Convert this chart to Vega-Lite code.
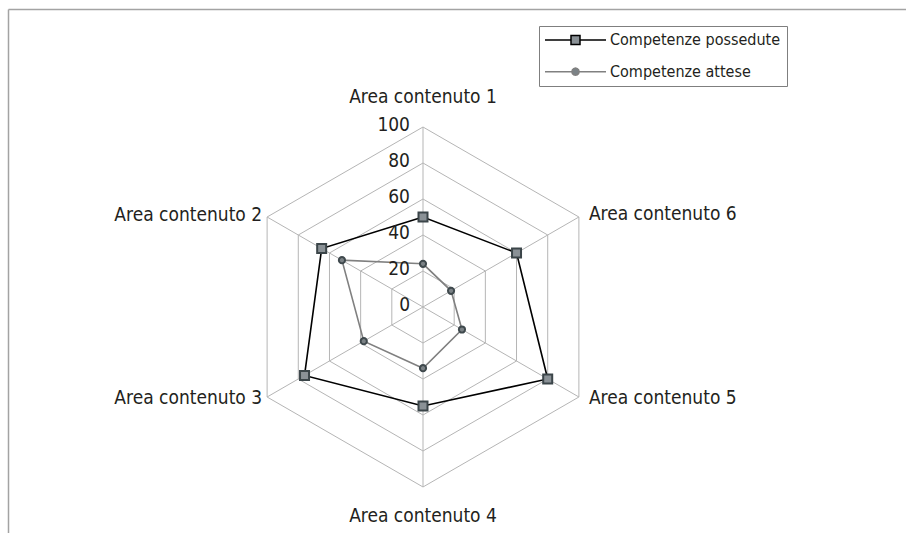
{
  "$schema": "https://vega.github.io/schema/vega-lite/v6.json",
  "width": 898,
  "height": 524,
  "autosize": "none",
  "padding": {"left": 8, "top": 9, "right": 0, "bottom": 0},
  "background": "white",
  "config": {
    "view": {"stroke": null},
    "font": "DejaVu Sans Condensed",
    "text": {"font": "DejaVu Sans Condensed", "fontSize": 19, "fill": "#231f20"}
  },
  "datasets": {
    "series": [
      {"series": "Competenze possedute", "area": 1, "value": 50},
      {"series": "Competenze possedute", "area": 2, "value": 65},
      {"series": "Competenze possedute", "area": 3, "value": 76},
      {"series": "Competenze possedute", "area": 4, "value": 55},
      {"series": "Competenze possedute", "area": 5, "value": 80},
      {"series": "Competenze possedute", "area": 6, "value": 60},
      {"series": "Competenze attese", "area": 1, "value": 24},
      {"series": "Competenze attese", "area": 2, "value": 52},
      {"series": "Competenze attese", "area": 3, "value": 38},
      {"series": "Competenze attese", "area": 4, "value": 34},
      {"series": "Competenze attese", "area": 5, "value": 25},
      {"series": "Competenze attese", "area": 6, "value": 18}
    ],
    "grid": [
      {"level": 20, "area": [1, 2, 3, 4, 5, 6]},
      {"level": 40, "area": [1, 2, 3, 4, 5, 6]},
      {"level": 60, "area": [1, 2, 3, 4, 5, 6]},
      {"level": 80, "area": [1, 2, 3, 4, 5, 6]},
      {"level": 100, "area": [1, 2, 3, 4, 5, 6]}
    ],
    "areas": [
      {"area": 1, "label": "Area contenuto 1"},
      {"area": 2, "label": "Area contenuto 2"},
      {"area": 3, "label": "Area contenuto 3"},
      {"area": 4, "label": "Area contenuto 4"},
      {"area": 5, "label": "Area contenuto 5"},
      {"area": 6, "label": "Area contenuto 6"}
    ],
    "ticks": [
      {"level": 0}, {"level": 20}, {"level": 40}, {"level": 60}, {"level": 80}, {"level": 100}
    ]
  },
  "encoding": {
    "x": {
      "field": "px", "type": "quantitative",
      "scale": {"domain": [-230.556, 268.333], "nice": false, "zero": false},
      "axis": {"orient": "top", "domain": true, "domainColor": "#a3a3a3", "domainWidth": 1.5, "ticks": false, "labels": false, "grid": false, "title": null}
    },
    "y": {
      "field": "py", "type": "quantitative",
      "scale": {"domain": [-125.556, 165.556], "nice": false, "zero": false},
      "axis": {"orient": "left", "domain": true, "domainColor": "#a3a3a3", "domainWidth": 1.5, "ticks": false, "labels": false, "grid": false, "title": null}
    }
  },
  "layer": [
    {
      "data": {"name": "grid"},
      "transform": [
        {"flatten": ["area"]},
        {"calculate": "datum.level * sin(-(datum.area - 1) * PI / 3)", "as": "px"},
        {"calculate": "datum.level * cos(-(datum.area - 1) * PI / 3)", "as": "py"}
      ],
      "mark": {"type": "line", "interpolate": "linear-closed", "stroke": "#b5b5b5", "strokeWidth": 1},
      "encoding": {
        "detail": {"field": "level", "type": "nominal"},
        "order": {"field": "area", "type": "quantitative"}
      }
    },
    {
      "data": {"name": "areas"},
      "transform": [
        {"calculate": "100 * sin(-(datum.area - 1) * PI / 3)", "as": "px"},
        {"calculate": "100 * cos(-(datum.area - 1) * PI / 3)", "as": "py"}
      ],
      "mark": {"type": "rule", "stroke": "#b5b5b5", "strokeWidth": 1},
      "encoding": {"x2": {"datum": 0}, "y2": {"datum": 0}}
    },
    {
      "data": {"name": "series"},
      "transform": [
        {"calculate": "datum.value * sin(-(datum.area - 1) * PI / 3)", "as": "px"},
        {"calculate": "datum.value * cos(-(datum.area - 1) * PI / 3)", "as": "py"}
      ],
      "mark": {"type": "line", "interpolate": "linear-closed", "strokeWidth": 1.6},
      "encoding": {
        "stroke": {
          "field": "series", "type": "nominal",
          "scale": {"domain": ["Competenze possedute", "Competenze attese"], "range": ["#000000", "#808080"]},
          "legend": {
            "orient": "none", "legendX": 531, "legendY": 17, "title": null,
            "padding": 6, "strokeColor": "#7f7f7f", "fillColor": "white",
            "symbolSize": 100, "symbolOffset": 22.5, "labelOffset": 26.5, "rowPadding": 15.7,
            "symbolStrokeWidth": 1.5,
            "labelFont": "DejaVu Sans Condensed", "labelFontSize": 16, "labelColor": "#231f20", "labelLimit": 400,
            "encode": {
              "symbols": {
                "update": {
                  "shape": {"signal": "datum.value === 'Competenze possedute' ? 'M-6.1,0H-0.9M0.9,0H6.1M-0.9,-0.9H0.9V0.9H-0.9Z' : 'M-6.1,0H-0.72M0.72,0H6.1M0.72,0L0.624,0.36L0.36,0.624L0,0.72L-0.36,0.624L-0.624,0.36L-0.72,0L-0.624,-0.36L-0.36,-0.624L0,-0.72L0.36,-0.624L0.624,-0.36Z'"},
                  "size": {"value": 100},
                  "fill": {"signal": "datum.value === 'Competenze possedute' ? '#8a9196' : '#7b8286'"},
                  "stroke": {"signal": "datum.value === 'Competenze possedute' ? '#1a1a1a' : '#6e6e6e'"},
                  "strokeWidth": {"value": 1.5},
                  "opacity": {"value": 1}
                }
              }
            }
          }
        },
        "order": {"field": "area", "type": "quantitative"}
      }
    },
    {
      "data": {"name": "series"},
      "transform": [
        {"filter": "datum.series === 'Competenze attese'"},
        {"calculate": "datum.value * sin(-(datum.area - 1) * PI / 3)", "as": "px"},
        {"calculate": "datum.value * cos(-(datum.area - 1) * PI / 3)", "as": "py"}
      ],
      "mark": {"type": "point", "shape": "circle", "size": 38, "filled": true, "fill": "#7b8286", "stroke": "#3f494d", "strokeWidth": 2, "opacity": 1}
    },
    {
      "data": {"name": "series"},
      "transform": [
        {"filter": "datum.series === 'Competenze possedute'"},
        {"calculate": "datum.value * sin(-(datum.area - 1) * PI / 3)", "as": "px"},
        {"calculate": "datum.value * cos(-(datum.area - 1) * PI / 3)", "as": "py"}
      ],
      "mark": {"type": "point", "shape": "square", "size": 81, "filled": true, "fill": "#8a9196", "stroke": "#3b4549", "strokeWidth": 2, "opacity": 1}
    },
    {
      "data": {"name": "ticks"},
      "transform": [
        {"calculate": "0", "as": "px"},
        {"calculate": "datum.level", "as": "py"}
      ],
      "mark": {"type": "text", "align": "right", "baseline": "middle", "dx": -13, "dy": -2},
      "encoding": {"text": {"field": "level", "type": "quantitative"}}
    },
    {
      "data": {"name": "areas"},
      "transform": [
        {"filter": "datum.area === 1"},
        {"calculate": "100 * sin(-(datum.area - 1) * PI / 3)", "as": "px"},
        {"calculate": "100 * cos(-(datum.area - 1) * PI / 3)", "as": "py"}
      ],
      "mark": {"type": "text", "align": "center", "baseline": "middle", "dy": -30},
      "encoding": {"text": {"field": "label", "type": "nominal"}}
    },
    {
      "data": {"name": "areas"},
      "transform": [
        {"filter": "datum.area === 4"},
        {"calculate": "100 * sin(-(datum.area - 1) * PI / 3)", "as": "px"},
        {"calculate": "100 * cos(-(datum.area - 1) * PI / 3)", "as": "py"}
      ],
      "mark": {"type": "text", "align": "center", "baseline": "middle", "dy": 29},
      "encoding": {"text": {"field": "label", "type": "nominal"}}
    },
    {
      "data": {"name": "areas"},
      "transform": [
        {"filter": "datum.area === 6"},
        {"calculate": "100 * sin(-(datum.area - 1) * PI / 3)", "as": "px"},
        {"calculate": "100 * cos(-(datum.area - 1) * PI / 3)", "as": "py"}
      ],
      "mark": {"type": "text", "align": "left", "baseline": "middle", "dx": 10, "dy": -3},
      "encoding": {"text": {"field": "label", "type": "nominal"}}
    },
    {
      "data": {"name": "areas"},
      "transform": [
        {"filter": "datum.area === 5"},
        {"calculate": "100 * sin(-(datum.area - 1) * PI / 3)", "as": "px"},
        {"calculate": "100 * cos(-(datum.area - 1) * PI / 3)", "as": "py"}
      ],
      "mark": {"type": "text", "align": "left", "baseline": "middle", "dx": 10, "dy": 1},
      "encoding": {"text": {"field": "label", "type": "nominal"}}
    },
    {
      "data": {"name": "areas"},
      "transform": [
        {"filter": "datum.area === 2"},
        {"calculate": "100 * sin(-(datum.area - 1) * PI / 3)", "as": "px"},
        {"calculate": "100 * cos(-(datum.area - 1) * PI / 3)", "as": "py"}
      ],
      "mark": {"type": "text", "align": "right", "baseline": "middle", "dx": -5, "dy": -2},
      "encoding": {"text": {"field": "label", "type": "nominal"}}
    },
    {
      "data": {"name": "areas"},
      "transform": [
        {"filter": "datum.area === 3"},
        {"calculate": "100 * sin(-(datum.area - 1) * PI / 3)", "as": "px"},
        {"calculate": "100 * cos(-(datum.area - 1) * PI / 3)", "as": "py"}
      ],
      "mark": {"type": "text", "align": "right", "baseline": "middle", "dx": -5, "dy": 1},
      "encoding": {"text": {"field": "label", "type": "nominal"}}
    }
  ]
}
